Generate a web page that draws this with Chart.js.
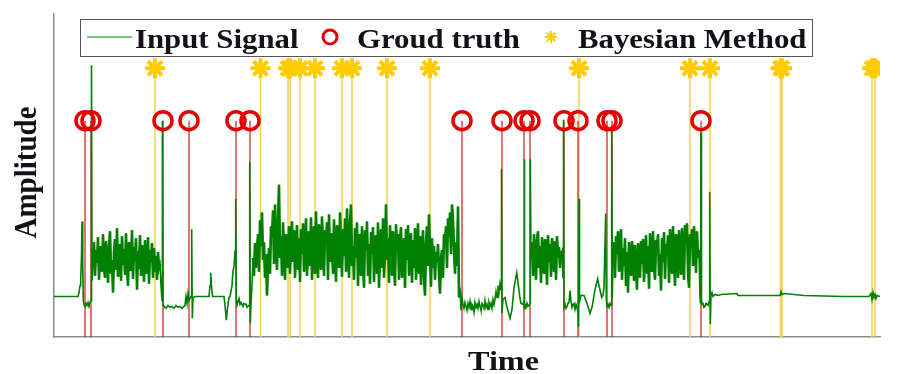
<!DOCTYPE html>
<html>
<head>
<meta charset="utf-8">
<script src="https://cdn.jsdelivr.net/npm/chart.js@4.4.0/dist/chart.umd.min.js"></script>
<style>
    html, body { margin: 0; padding: 0; background: #ffffff; }
    #wrap { width: 908px; height: 374px; }
</style>
</head>
<body>
<div id="wrap"><canvas id="signalChart" width="908" height="374"></canvas></div>
<script>
// change points (time index)
const groundTruth = [31, 37, 109, 135, 182, 196, 408, 448, 470, 476, 510, 524, 553, 558, 647];
const bayesian = [101, 206.5, 234, 236, 246, 261, 288, 298, 333, 376, 525, 636, 656, 726.5, 728, 818, 821];
const gtLevel = 219;
const bayesLevel = 272;

// quiet stretches of the input signal as [time, amplitude]
const quietA = [[0,41],[24,41],[25,45],[26,52],[26.7,57],[27.5,82],[28,117],[28.7,77],[29.3,37],[30,33],[31,31],[32,34],[33,32],[34,35],[35,31],[36,35],[37,37],[37.5,275],[38,57]];
const quietB = [[107,52],[108,37],[108.4,219],[109,32],[110,31],[112,29],[114,32],[116,30],[118,31],[120,29],[122,32],[124,30],[126,31],[128,29],[130,31],[131,32],[132,41],[133,34],[134,44],[135,37],[137,41],[137.7,109],[138.3,19],[139,40],[141,41],[155,41],[156,52],[156.7,65],[157.5,52],[158.5,41],[170,41],[171,32],[172.3,17],[173.5,29],[175,40],[176,41],[178,52],[179,67],[180,71],[181,87],[181.7,140],[182.3,37],[183,32],[184,36],[185,39],[186,33],[187,35],[189,31],[190,34],[192,33],[193,30],[195,32],[195.7,177],[196.3,14],[197,34],[198,52]];
const quietC = [[406,50],[407,27],[408,40]];
const quietD = [[441,38],[442,46],[443,40],[444,52],[445,45],[446,54],[447,48],[447.5,170],[448,24],[449,38],[451,40],[453,30],[456,19],[458,28],[460,50],[462.7,65],[464,55],[466,39],[467,34],[469,33],[470,36],[470.3,180],[470.7,28],[471,33],[472,30],[473,34],[474,31],[475,32],[476,34],[476.3,180]];
const quietE = [[509,60],[509.5,220],[510,30],[511,33],[512,29],[513,31],[514,34],[515,35],[516,47],[517,36],[518,30],[519,33],[520,34],[521,28],[522,33],[523,30],[524,24],[524.5,10],[525,140],[525.5,36],[527,42],[530,42],[533,34],[536,24],[538,30],[541,48],[543.7,59],[545,52],[547.7,40],[549,42],[550,50],[551.7,125],[552.3,38],[553,31],[554,33],[555,30],[556,34],[557,32],[557.7,209],[558.3,40]];
const quietF = [[646,40],[646.5,34],[647,207],[647.5,32],[648,35],[649,34],[650,30],[651,31],[652,34],[653,33],[654,32],[655,36],[655.7,147],[656.3,13],[657,42],[658,45],[659,41],[661,43],[664,42],[667,43],[683,44],[684,42],[700,42],[726,42],[727,46],[728,43],[730,44],[750,42],[790,41],[815,41],[817,44],[818,38],[819,45],[820,40],[821,43],[822,39],[823,42],[826,41]];

// busy stretches, one sample per time step
const burstAStart = 39;
const burstA = [
    70, 96, 62, 88, 75, 101, 58, 84, 92, 66, 104, 71, 60, 97, 83, 55, 90, 107, 64, 78,
    45, 86, 99, 68, 110, 61, 80, 94, 57, 102, 73, 89, 63, 105, 70, 52, 96, 85, 67, 108,
    59, 91, 77, 100, 48, 87, 69, 103, 62, 93, 81, 56, 98, 72, 64, 101, 54, 88, 76, 95,
    60, 90, 66, 82, 58, 86, 70, 74
];
const burstBStart = 199;
const burstB = [
    80, 62, 95, 70, 88, 104, 66, 118, 92, 126,
    78, 96, 60, 84, 42, 72, 90, 64, 112, 100,
    128, 74, 134, 92, 68, 118, 154, 80, 102, 62,
    116, 88, 58, 104, 96, 70, 112, 64, 98, 117,
    76, 108, 60, 92, 113, 68, 100, 56, 109, 84,
    115, 66, 94, 120, 62, 86, 107, 72, 121, 58,
    98, 112, 64, 127, 80, 60, 114, 92, 68, 122,
    88, 62, 108, 96, 116, 58, 124, 76, 105, 90,
    64, 119, 84, 56, 113, 100, 70, 126, 92, 61,
    109, 82, 120, 66, 130, 94, 60, 115, 134, 72,
    92, 58, 110, 80, 116, 52, 98, 104, 62, 112,
    76, 50, 108, 88, 117, 62, 94, 54, 106, 84,
    111, 56, 96, 103, 64, 116, 50, 90, 109, 70,
    120, 60, 86, 134, 78, 100, 55, 113, 92, 62,
    107, 74, 52, 114, 88, 104, 58, 96, 111, 60,
    84, 100, 50, 109, 78, 113, 62, 94, 105, 55,
    98, 70, 110, 58, 88, 115, 64, 102, 53, 92,
    108, 60, 42, 96, 112, 72, 124, 84, 51, 100,
    70, 92, 58, 86, 76, 94, 62, 44, 80, 88,
    60, 104, 96, 112, 70, 120, 102, 126, 84, 134,
    118, 90, 64, 96, 72, 132, 40
];
const burstCStart = 409;
const burstC = [33, 29, 35, 31, 27, 34, 30, 36, 28, 33, 31, 25, 35, 30, 33, 29, 36, 31, 27, 34, 32, 29, 37, 30, 33, 28, 35, 31, 34, 29, 38, 33];
const burstDStart = 477;
const burstD = [80, 96, 62, 104, 86, 58, 98, 107, 70, 92, 55, 101, 84, 64, 99, 90, 53, 103, 76, 94, 61, 100, 88, 66, 97, 58, 102, 80, 91, 70, 84, 87];
const burstEStart = 559;
const burstE = [
    76, 96, 60, 102, 84, 107, 66, 92, 109, 58,
    90, 72, 100, 52, 86, 45, 96, 78, 62, 97,
    84, 57, 93, 70, 48, 95, 88, 60, 97, 74,
    99, 56, 86, 103, 64, 92, 49, 105, 80, 66,
    107, 72, 58, 98, 90, 104, 62, 84, 47, 100,
    76, 106, 59, 94, 84, 103, 55, 109, 88, 64,
    112, 78, 52, 104, 96, 60, 108, 86, 63, 110,
    82, 58, 113, 94, 115, 66, 50, 104, 90, 109,
    72, 112, 96, 65, 107, 80, 88
];

const legendLabels = ['Input Signal', 'Groud truth', 'Bayesian Method'];
const xTitle = 'Time';
const yTitle = 'Amplitude';

const GREEN = '#008000';
const RED = '#e30000';
const GOLD = '#ffcc00';

function fromPairs(pairs) {
    return pairs.map(p => ({ x: p[0], y: p[1] }));
}
function fromBurst(start, values) {
    return values.map((v, i) => ({ x: start + i, y: v }));
}
function stems(times, level) {
    const pts = [];
    times.forEach(t => {
        pts.push({ x: t, y: 0 }, { x: t, y: level }, { x: t, y: null });
    });
    return pts;
}

const signalData = [].concat(
    fromPairs(quietA), fromBurst(burstAStart, burstA),
    fromPairs(quietB), fromBurst(burstBStart, burstB),
    fromPairs(quietC), fromBurst(burstCStart, burstC),
    fromPairs(quietD), fromBurst(burstDStart, burstD),
    fromPairs(quietE), fromBurst(burstEStart, burstE),
    fromPairs(quietF)
);
// the busy stretches again, drawn heavier so the band reads as solid
const busyData = [].concat(
    fromBurst(burstAStart, burstA), [{ x: 150, y: null }],
    fromBurst(burstBStart, burstB), [{ x: 450, y: null }],
    fromBurst(burstDStart, burstD), [{ x: 530, y: null }],
    fromBurst(burstEStart, burstE)
);

// stretched serif text, like the exported figure
function serifText(ctx, text, x, y, size, stretch, rotate) {
    ctx.save();
    ctx.translate(x, y);
    if (rotate) {
        ctx.rotate(-Math.PI / 2);
        ctx.scale(1, stretch);
    } else {
        ctx.scale(stretch, 1);
    }
    ctx.font = 'bold ' + size + 'px "Liberation Serif", "DejaVu Serif", serif';
    ctx.fillStyle = '#111118';
    ctx.textAlign = rotate ? 'center' : 'left';
    ctx.textBaseline = 'alphabetic';
    ctx.fillText(text, 0, 0);
    ctx.restore();
}

function drawStar(ctx, x, y, r, w) {
    ctx.save();
    ctx.strokeStyle = GOLD;
    ctx.lineWidth = w;
    ctx.beginPath();
    for (let k = 0; k < 4; k++) {
        const a = k * Math.PI / 4;
        ctx.moveTo(x - r * Math.cos(a), y - r * Math.sin(a));
        ctx.lineTo(x + r * Math.cos(a), y + r * Math.sin(a));
    }
    ctx.stroke();
    ctx.restore();
}

const figureText = {
    id: 'figureText',
    afterDraw(chart) {
        const ctx = chart.ctx;
        const area = chart.chartArea;

        // legend box
        const bx = area.left + 26, by = area.top + 5, bw = 732, bh = 37;
        ctx.save();
        ctx.fillStyle = '#ffffff';
        ctx.fillRect(bx, by, bw, bh);
        ctx.strokeStyle = '#555555';
        ctx.lineWidth = 1;
        ctx.strokeRect(bx + 0.5, by + 0.5, bw, bh);
        const cy = by + 18;
        ctx.strokeStyle = GREEN;
        ctx.beginPath();
        ctx.moveTo(bx + 7, cy);
        ctx.lineTo(bx + 52, cy);
        ctx.stroke();
        ctx.strokeStyle = RED;
        ctx.lineWidth = 3;
        ctx.beginPath();
        ctx.arc(bx + 250, cy, 7, 0, Math.PI * 2);
        ctx.stroke();
        ctx.restore();
        drawStar(ctx, bx + 471, cy, 6, 2);

        serifText(ctx, legendLabels[0], bx + 55, by + 29, 28, 1.1, false);
        serifText(ctx, legendLabels[1], bx + 277, by + 29, 28, 1.1, false);
        serifText(ctx, legendLabels[2], bx + 498, by + 29, 28, 1.1, false);

        serifText(ctx, xTitle, area.left + 414, area.bottom + 33, 28, 1.15, false);
        serifText(ctx, yTitle, area.left - 18, (area.top + area.bottom) / 2 - 3, 29, 1.12, true);
    }
};

const ctx = document.getElementById('signalChart').getContext('2d');
new Chart(ctx, {
    type: 'line',
    data: {
        datasets: [
            {
                label: legendLabels[1],
                data: groundTruth.map(t => ({ x: t, y: gtLevel })),
                showLine: false,
                pointStyle: 'circle',
                pointRadius: 9,
                pointBorderWidth: 3.5,
                pointBorderColor: RED,
                pointBackgroundColor: 'rgba(0,0,0,0)'
            },
            {
                label: legendLabels[2],
                data: bayesian.map(t => ({ x: t, y: bayesLevel })),
                showLine: false,
                pointStyle: 'star',
                pointRadius: 10,
                pointBorderWidth: 4,
                pointBorderColor: GOLD,
                pointBackgroundColor: GOLD
            },
            {
                label: legendLabels[0],
                data: signalData,
                borderColor: GREEN,
                borderWidth: 1.6,
                pointRadius: 0,
                tension: 0
            },
            {
                label: 'busy',
                data: busyData,
                borderColor: GREEN,
                borderWidth: 2.6,
                pointRadius: 0,
                tension: 0,
                spanGaps: false
            },
            {
                label: 'gt stems',
                data: stems(groundTruth, gtLevel),
                borderColor: '#cc1a1a',
                borderWidth: 1.2,
                pointRadius: 0,
                spanGaps: false
            },
            {
                label: 'bayes stems',
                data: stems(bayesian, bayesLevel),
                borderColor: '#f3d250',
                borderWidth: 1.5,
                pointRadius: 0,
                spanGaps: false
            }
        ]
    },
    options: {
        responsive: false,
        animation: false,
        events: [],
        layout: { padding: { left: 54, right: 28, top: 10, bottom: 37 } },
        scales: {
            x: {
                type: 'linear',
                min: 0,
                max: 826,
                grid: { display: false, drawTicks: false },
                ticks: { display: false },
                border: { display: true, color: '#8c8c8c', width: 1.5 }
            },
            y: {
                min: 0,
                max: 327,
                grid: { display: false, drawTicks: false },
                ticks: { display: false },
                border: { display: true, color: '#8c8c8c', width: 1.5 }
            }
        },
        plugins: {
            legend: { display: false },
            tooltip: { enabled: false }
        }
    },
    plugins: [figureText]
});
</script>
</body>
</html>
